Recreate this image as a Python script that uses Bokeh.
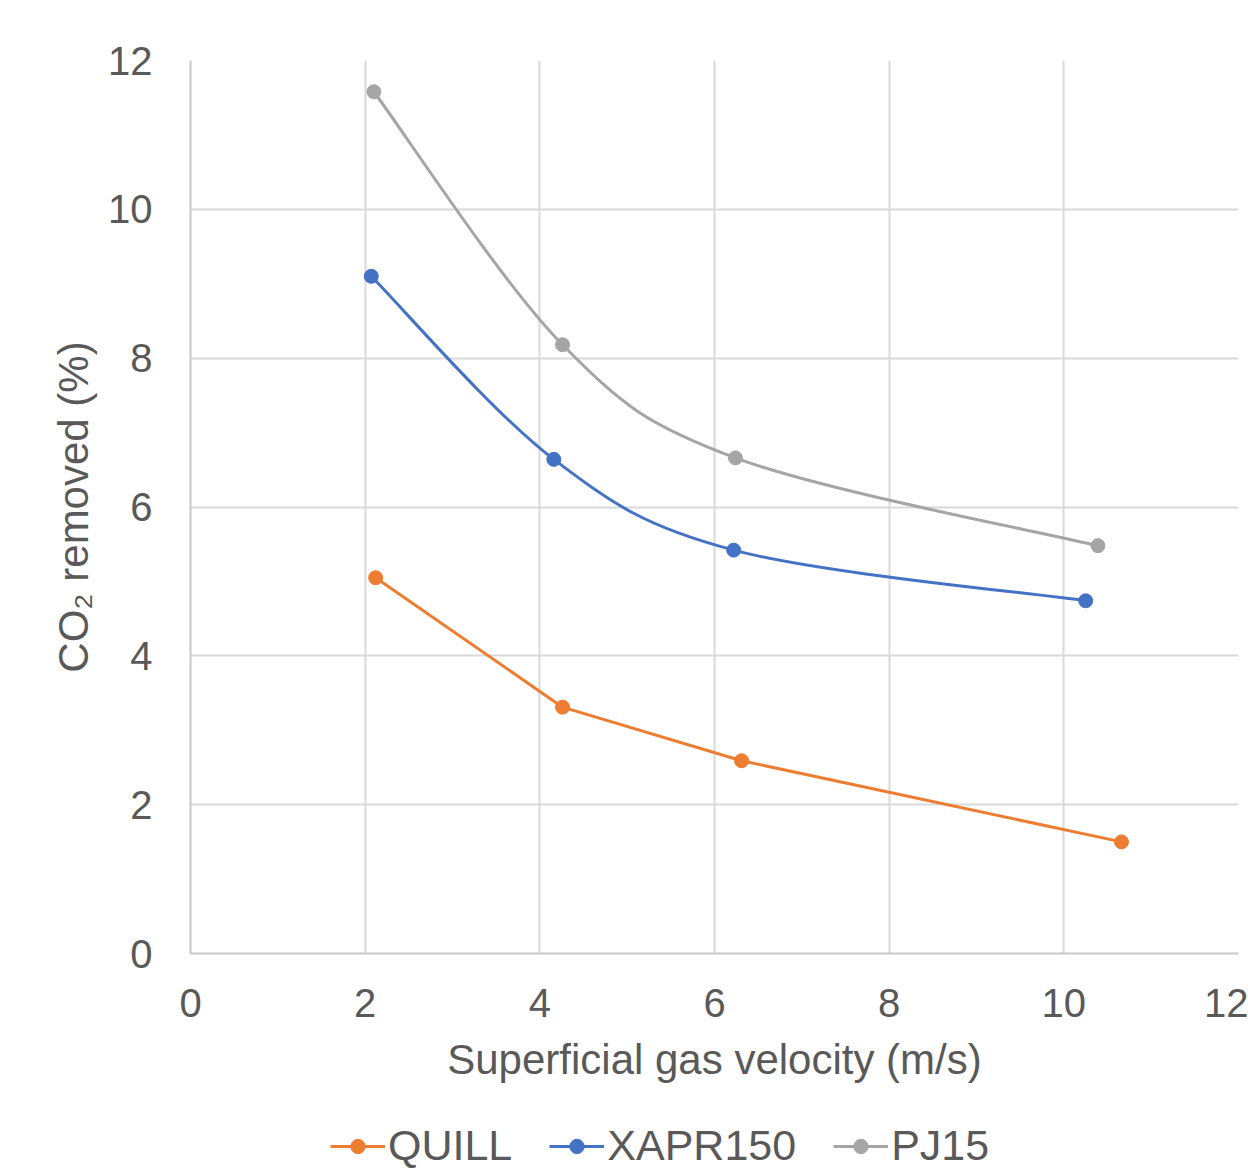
from bokeh.plotting import figure
from bokeh.models import Range1d, FixedTicker, Legend, LegendItem, ColumnDataSource
from bokeh.layouts import column
from bokeh.embed import file_html
from bokeh.resources import INLINE

# ---- data ----
quill_x = [2.12, 4.26, 6.31, 10.66]
quill_y = [5.05, 3.31, 2.59, 1.50]
xapr_x = [2.07, 4.16, 6.22, 10.25]
xapr_y = [9.10, 6.64, 5.42, 4.74]
pj_x = [2.10, 4.26, 6.24, 10.39]
pj_y = [11.58, 8.18, 6.66, 5.48]
series_names = ["QUILL", "XAPR150", "PJ15"]
x_ticks = [0, 2, 4, 6, 8, 10, 12]
y_ticks = [0, 2, 4, 6, 8, 10, 12]

ORANGE = "#ED7D31"
BLUE = "#4472C4"
GRAY = "#A5A5A5"
TXT = "#595959"
FONT = "Liberation Sans"
colors = [ORANGE, BLUE, GRAY]

MAIN_H = 1116
p = figure(width=1248, height=MAIN_H, output_backend="svg", toolbar_location=None,
           x_range=Range1d(0, 12), y_range=Range1d(0, 12),
           min_border_left=190, min_border_right=10, min_border_top=60,
           min_border_bottom=MAIN_H - 953)
p.outline_line_color = None
p.background_fill_color = "white"
p.border_fill_color = "white"

for ax in (p.xaxis[0], p.yaxis[0]):
    ax.major_tick_line_color = None
    ax.minor_tick_line_color = None
    ax.axis_line_color = "#c8c8c8"
    ax.axis_line_width = 2
    ax.major_label_text_font = FONT
    ax.major_label_text_font_size = "40px"
    ax.major_label_text_color = TXT
    ax.axis_label_text_font = FONT
    ax.axis_label_text_font_size = "42px"
    ax.axis_label_text_color = TXT
    ax.axis_label_text_font_style = "normal"

p.xaxis.ticker = FixedTicker(ticks=x_ticks)
p.yaxis.ticker = FixedTicker(ticks=y_ticks)
p.xaxis.major_label_standoff = 29
p.yaxis.major_label_standoff = 32
p.xaxis.axis_label = "Superficial gas velocity (m/s)"
p.yaxis.axis_label = "CO\u2082 removed (%)"
p.xaxis.axis_label_standoff = 16
p.yaxis.axis_label_standoff = 8

p.xgrid.ticker = FixedTicker(ticks=x_ticks)
p.ygrid.ticker = FixedTicker(ticks=y_ticks)
for g in (p.xgrid[0], p.ygrid[0]):
    g.grid_line_color = "#d9d9d9"
    g.grid_line_width = 2


def smooth_segments(xs, ys):
    n = len(xs)
    d = dict(x0=[], y0=[], x1=[], y1=[], cx0=[], cy0=[], cx1=[], cy1=[])
    for i in range(n - 1):
        i0 = max(i - 1, 0)
        i3 = min(i + 2, n - 1)
        d["x0"].append(xs[i]); d["y0"].append(ys[i])
        d["x1"].append(xs[i + 1]); d["y1"].append(ys[i + 1])
        d["cx0"].append(xs[i] + (xs[i + 1] - xs[i0]) / 6)
        d["cy0"].append(ys[i] + (ys[i + 1] - ys[i0]) / 6)
        d["cx1"].append(xs[i + 1] - (xs[i3] - xs[i]) / 6)
        d["cy1"].append(ys[i + 1] - (ys[i3] - ys[i]) / 6)
    return ColumnDataSource(d)


# QUILL: straight segments
p.line(quill_x, quill_y, line_color=ORANGE, line_width=3)
p.scatter(quill_x, quill_y, size=14, fill_color=ORANGE, line_color=ORANGE)

# XAPR150: smoothed
p.bezier(x0="x0", y0="y0", x1="x1", y1="y1", cx0="cx0", cy0="cy0", cx1="cx1", cy1="cy1",
         source=smooth_segments(xapr_x, xapr_y), line_color=BLUE, line_width=3)
p.scatter(xapr_x, xapr_y, size=14, fill_color=BLUE, line_color=BLUE)

# PJ15: smoothed
p.bezier(x0="x0", y0="y0", x1="x1", y1="y1", cx0="cx0", cy0="cy0", cx1="cx1", cy1="cy1",
         source=smooth_segments(pj_x, pj_y), line_color=GRAY, line_width=3)
p.scatter(pj_x, pj_y, size=14, fill_color=GRAY, line_color=GRAY)

# ---- legend strip (separate figure under the chart) ----
# Its y range lies above all data so the series themselves are clipped away;
# only the legend swatches (line + marker) are shown.
LEG_H = 1171 - MAIN_H
lf = figure(width=1248, height=LEG_H, output_backend="svg", toolbar_location=None,
            x_range=Range1d(0, 12), y_range=Range1d(100, 101),
            x_axis_type=None, y_axis_type=None,
            min_border_left=0, min_border_right=0, min_border_top=0, min_border_bottom=0)
lf.outline_line_color = None
lf.grid.visible = False
lf.border_fill_color = "white"
lf.background_fill_color = "white"

items = []
for name, c, xs, ys in zip(series_names, colors, [quill_x, xapr_x, pj_x], [quill_y, xapr_y, pj_y]):
    lr = lf.line(x=xs, y=ys, line_color=c, line_width=3)
    sr = lf.scatter(x=xs, y=ys, size=14, fill_color=c, line_color=c)
    items.append(LegendItem(label=name, renderers=[lr, sr]))

legend = Legend(items=items, orientation="horizontal", location=(140, 1),
                label_text_font=FONT, label_text_font_size="43px", label_text_color=TXT,
                glyph_width=55, glyph_height=36, label_standoff=3, spacing=37,
                padding=0, margin=0, border_line_color=None, background_fill_alpha=0)
lf.add_layout(legend, "center")

layout = column(p, lf, spacing=0)
open("out.html", "w").write(file_html(layout, INLINE))
